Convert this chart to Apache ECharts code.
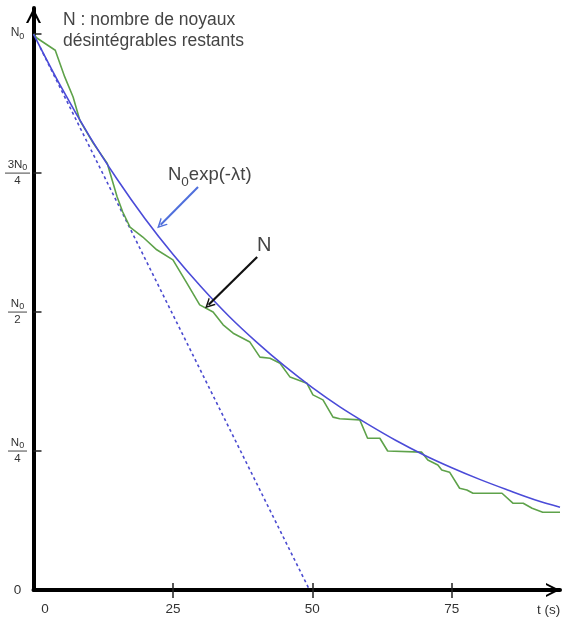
<!DOCTYPE html>
<html>
<head>
<meta charset="utf-8">
<script src="https://cdn.jsdelivr.net/npm/echarts@6/dist/echarts.min.js"></script>
<style>html,body{margin:0;padding:0;background:#fff}#c{width:563px;height:624px}</style>
</head>
<body>
<div id="c"></div>
<script>
// ---- data ----
const xTicks = [0, 25, 50, 75];
const yTicks = [0, 0.25, 0.5, 0.75, 1];
const yTickLabels = ['0', 'N0/4', 'N0/2', '3N0/4', 'N0'];
const tMax = 94.4;
const yMax = 1.047;

// measured N (green)
const tGreen = [0, 0.6, 3.9, 5.6, 7.1, 8.3, 10.7, 13.2, 15.0, 16.0, 17.3, 19.6, 22.1, 25.0, 27.5, 29.8, 32.2, 34.0, 35.8, 38.8, 40.6, 42.4, 44.2, 46.0, 49.0, 50.1, 51.9, 53.7, 54.9, 58.5, 59.9, 62.1, 63.5, 69.6, 70.7, 72.5, 73.2, 74.6, 76.4, 77.7, 78.8, 84.0, 86.0, 87.8, 89.4, 91.3, 94.4];
const nGreen = [1.0, 0.993, 0.971, 0.923, 0.887, 0.845, 0.804, 0.768, 0.707, 0.680, 0.653, 0.635, 0.612, 0.594, 0.552, 0.513, 0.500, 0.477, 0.462, 0.446, 0.419, 0.417, 0.408, 0.383, 0.372, 0.351, 0.342, 0.311, 0.308, 0.306, 0.273, 0.273, 0.250, 0.248, 0.234, 0.225, 0.216, 0.212, 0.183, 0.180, 0.174, 0.174, 0.156, 0.156, 0.147, 0.140, 0.140];

// N0 exp(-lambda t) (blue)
const tBlue = [0, 5, 10, 15, 20, 25, 30, 35, 40, 45, 50, 55, 60, 65, 70, 75, 80, 85, 90, 94.4];
const nBlue = [1.000, 0.904, 0.817, 0.739, 0.668, 0.604, 0.546, 0.493, 0.446, 0.403, 0.364, 0.329, 0.298, 0.269, 0.243, 0.220, 0.199, 0.180, 0.162, 0.149];

// tangent at origin (dashed)
const tTangent = [1.2, 49.5];
const nTangent = [0.976, 0];

// annotation arrows [from, to] in data coords
const blueArrow = [[29.5, 0.725], [22.8, 0.657]];
const blackArrow = [[40.1, 0.599], [31.4, 0.513]];

const FONT = '"Liberation Sans", Arial, sans-serif';
const CHEV = 'path://M0,12 L6,0 L12,12 L10.2,12 L6,4 L1.8,12 Z';

const pairs = (xs, ys) => xs.map((x, i) => [x, ys[i]]);

function yFmt(v) {
  const i = yTicks.indexOf(v);
  const lab = i >= 0 ? yTickLabels[i] : '';
  if (lab === '0') return '{z|0}';
  const sub = s => '{n|' + s.slice(0, -1) + '}{s|' + s.slice(-1) + '}';
  if (lab.indexOf('/') < 0) return '{nb|N}{sb|0}';
  const [num, den] = lab.split('/');
  return sub(num) + '\n{' + (num.length > 2 ? 'bar3' : 'bar2') + '| }\n{d|' + den + '}';
}

const chart = echarts.init(document.getElementById('c'), null, {renderer: 'canvas'});
chart.setOption({
  animation: false,
  backgroundColor: '#ffffff',
  grid: {left: 33.5, right: 3, top: 8, bottom: 34, containLabel: false},
  xAxis: [{
    type: 'value', min: 0, max: tMax, position: 'bottom',
    axisLine: {show: true, lineStyle: {color: '#000', width: 4},
      symbol: ['none', CHEV], symbolSize: [17, 14], symbolOffset: [0, -7]},
    axisTick: {show: true, inside: true, length: 7, lineStyle: {color: '#222', width: 1.5}, customValues: xTicks.slice(1)},
    axisLabel: {show: true, customValues: xTicks, margin: 12, color: '#333', fontFamily: FONT, fontSize: 13.5,
      formatter: v => v === 0 ? '{z0|0}' : String(v),
      rich: {z0: {padding: [0, 0, 0, 23], fontSize: 13.5, fontFamily: FONT, color: '#333'}}},
    splitLine: {show: false}
  }, {
    type: 'value', min: 0, max: tMax, position: 'bottom',
    axisLine: {show: false},
    axisTick: {show: true, inside: false, length: 8, lineStyle: {color: '#222', width: 1.5}, customValues: xTicks.slice(1)},
    axisLabel: {show: false},
    splitLine: {show: false}
  }],
  yAxis: {
    type: 'value', min: 0, max: yMax,
    axisLine: {show: true, lineStyle: {color: '#000', width: 4},
      symbol: ['none', CHEV], symbolSize: [15, 15], symbolOffset: [0, -7.5]},
    axisTick: {show: true, inside: true, length: 8, lineStyle: {color: '#222', width: 1.5}, customValues: yTicks.slice(1)},
    axisLabel: {show: true, customValues: yTicks, align: 'center', margin: 16, formatter: yFmt,
      rich: {
        z: {fontSize: 13.5, fontFamily: FONT, color: '#333'},
        nb: {fontSize: 12, lineHeight: 14, verticalAlign: 'top', fontFamily: FONT, color: '#333'},
        sb: {fontSize: 9, lineHeight: 14, verticalAlign: 'bottom', fontFamily: FONT, color: '#333'},
        n: {fontSize: 11.5, lineHeight: 13, verticalAlign: 'top', fontFamily: FONT, color: '#333'},
        s: {fontSize: 9, lineHeight: 13, verticalAlign: 'bottom', fontFamily: FONT, color: '#333'},
        bar2: {width: 19, height: 1, lineHeight: 3, fontSize: 1, backgroundColor: '#444'},
        bar3: {width: 25, height: 1, lineHeight: 3, fontSize: 1, backgroundColor: '#444'},
        d: {fontSize: 11.5, lineHeight: 13, fontFamily: FONT, color: '#333'}
      }},
    splitLine: {show: false}
  },
  series: [
    {
      type: 'line', name: 'tangente', data: pairs(tTangent, nTangent), showSymbol: false, z: 2,
      lineStyle: {color: '#4b4bd0', width: 1.6, type: [3, 3]}
    },
    {
      type: 'line', name: 'N', data: pairs(tGreen, nGreen), showSymbol: false, z: 3,
      lineStyle: {color: '#5ea24a', width: 1.6}
    },
    {
      type: 'line', name: 'exp', data: pairs(tBlue, nBlue), showSymbol: false, smooth: 0.35, z: 4,
      lineStyle: {color: '#4b4bd8', width: 1.6},
      markLine: {
        silent: true, animation: false, symbol: ['none', CHEV], symbolSize: [10, 10],
        label: {show: false},
        data: [
          [{coord: blueArrow[0], lineStyle: {color: '#4f6fdc', width: 2, type: 'solid'}}, {coord: blueArrow[1]}],
          [{coord: blackArrow[0], lineStyle: {color: '#111', width: 2.2, type: 'solid'}}, {coord: blackArrow[1]}]
        ]
      }
    }
  ],
  graphic: [
    {type: 'text', left: 63, top: 10, style: {text: 'N : nombre de noyaux\ndésintégrables restants', font: '17.5px ' + FONT, fill: '#444', lineHeight: 21}},
    {type: 'text', left: 168, top: 165, style: {
      text: '{a|N}{b|0}{a|exp(-λt)}',
      rich: {
        a: {fontSize: 18.5, lineHeight: 24, verticalAlign: 'top', fontFamily: FONT, fill: '#444'},
        b: {fontSize: 13.5, lineHeight: 24, verticalAlign: 'bottom', fontFamily: FONT, fill: '#444'}
      }}},
    {type: 'text', left: 257, top: 235, style: {text: 'N', font: '20px ' + FONT, fill: '#444'}},
    {type: 'text', left: 537, top: 603, style: {text: 't (s)', font: '13.5px ' + FONT, fill: '#333'}}
  ]
});
</script>
</body>
</html>
